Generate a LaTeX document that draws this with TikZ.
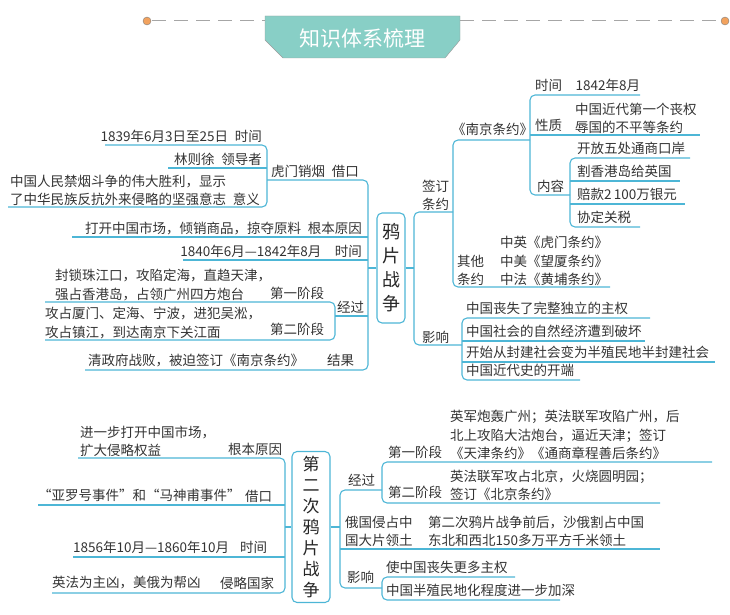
\documentclass[tikz,border=0pt]{standalone}
\usepackage{fontspec}
\setmainfont{Noto Sans CJK SC}
\definecolor{ln}{HTML}{4DB6D6}
\definecolor{tl}{HTML}{88CFC6}
\definecolor{og}{HTML}{F2A25E}
\begin{document}
\begin{tikzpicture}[x=1pt,y=-1pt,
 br/.style={draw=ln,line width=1.1pt,rounded corners=5pt},
 tx/.style={inner sep=0pt,anchor=base west,font=\fontsize{13.5}{18}\selectfont,text=black!80},
 txr/.style={tx,anchor=base east},
 ml/.style={inner sep=0pt,anchor=south west,align=left,font=\fontsize{13.5}{18.5}\selectfont,text=black!80},
 cbox/.style={draw=ln,line width=1.1pt,rounded corners=5pt,fill=white},
 ctext/.style={inner sep=0pt,align=center,font=\fontsize{18}{24}\selectfont,text=black!85}]
\useasboundingbox (0,0) rectangle (730,615);
% title
\draw[gray!70,line width=1pt,dash pattern=on 14pt off 8pt] (152,21) -- (720,21);
\filldraw[fill=og,draw=gray] (147,21) circle[radius=4];
\filldraw[fill=og,draw=gray] (725,21) circle[radius=4];
\draw[gray!80,fill=tl] (265,16)--(460,16)--(460,40)--(445,58)--(283,58)--(265,40)--cycle;
\node[inner sep=0pt,text=white,font=\fontsize{21}{24}\selectfont] (title) at (362,38) {知识体系梳理};

% ===== 鸦片战争 =====
\node[cbox,minimum width=28pt,minimum height=110pt] (c1) at (391,268) {};
\node[ctext] at (c1) {鸦\\片\\战\\争};
% left
\draw[br] (c1.west) -- (368,268);
\draw[br] (267,180) -- (368,180) -- (368,370) -- (85,370);
\draw[br] (105,145) -- (267,145) -- (267,207) -- (8,207);
\draw[br] (168,168) -- (267,168);
\draw[br] (72,237) -- (368,237);
\draw[br] (183,260) -- (368,260);
\draw[br] (335,316) -- (368,316);
\draw[br] (45,302) -- (335,302) -- (335,340) -- (45,340);
\node[txr] (a1) at (262,141) {1839年6月3日至25日\enspace 时间};
\node[txr] (a2) at (262,164) {林则徐\enspace 领导者};
\node[ml] (a3) at (10,206) {中国人民禁烟斗争的伟大胜利，显示\\了中华民族反抗外来侵略的坚强意志\enspace 意义};
\node[tx] (a4) at (271,176) {虎门销烟\enspace 借口};
\node[txr] (a5) at (362,233) {打开中国市场，倾销商品，掠夺原料\enspace 根本原因};
\node[txr] (a6) at (362,256) {1840年6月—1842年8月\quad 时间};
\node[ml] (a7) at (55,301) {封锁珠江口，攻陷定海，直趋天津，\\强占香港岛，占领广州四方炮台};
\node[tx] (a8) at (270,298) {第一阶段};
\node[tx] (a9) at (337,312) {经过};
\node[ml] (a10) at (45,339) {攻占厦门、定海、宁波，进犯吴淞，\\攻占镇江，到达南京下关江面};
\node[tx] (a11) at (270,334) {第二阶段};
\node[tx] (a12) at (88,365) {清政府战败，被迫签订《南京条约》};
\node[tx] (a13) at (327,365) {结果};
% right
\draw[br] (c1.east) -- (414,268);
\draw[br] (453,212) -- (414,212) -- (414,345) -- (462,345);
\draw[br] (530,140) -- (453,140) -- (453,287) -- (610,287);
\draw[br] (640,95) -- (530,95) -- (530,195) -- (570,195);
\draw[br] (530,135) -- (700,135);
\draw[br] (690,158) -- (570,158) -- (570,227) -- (640,227);
\draw[br] (570,181) -- (680,181);
\draw[br] (570,204) -- (685,204);
\draw[br] (650,318) -- (462,318) -- (462,380) -- (580,380);
\draw[br] (462,341) -- (645,341);
\draw[br] (462,362) -- (715,362);
\node[ml] (b1) at (422,211) {签订\\条约};
\node[tx] (b2) at (452,134) {《南京条约》};
\node[tx] (b3) at (535,91) {时间\quad 1842年8月};
\node[tx] (b4) at (535,130) {性质};
\node[ml] (b5) at (575,134) {中国近代第一个丧权\\辱国的不平等条约};
\node[tx] (b6) at (577,153) {开放五处通商口岸};
\node[tx] (b7) at (577,176) {割香港岛给英国};
\node[tx] (b8) at (577,199) {赔款2\,100万银元};
\node[tx] (b9) at (577,222) {协定关税};
\node[tx] (b10) at (537,191) {内容};
\node[ml] (b11) at (457,286) {其他\\条约};
\node[ml] (b12) at (500,286) {中英《虎门条约》\\中美《望厦条约》\\中法《黄埔条约》};
\node[tx] (b13) at (422,342) {影响};
\node[tx] (b14) at (466,313) {中国丧失了完整独立的主权};
\node[tx] (b15) at (466,336) {中国社会的自然经济遭到破坏};
\node[tx] (b16) at (466,357) {开始从封建社会变为半殖民地半封建社会};
\node[tx] (b17) at (466,375) {中国近代史的开端};

% ===== 第二次鸦片战争 =====
\node[cbox,minimum width=38pt,minimum height=151pt] (c2) at (311,527) {};
\node[ctext,font=\fontsize{17}{21}\selectfont] at (c2) {第\\二\\次\\鸦\\片\\战\\争};
\draw[br] (c2.west) -- (285,527);
\draw[br] (78,458) -- (285,458) -- (285,593) -- (52,593);
\draw[br] (38,505) -- (285,505);
\draw[br] (73,557) -- (285,557);
\node[ml] (d1) at (80,457) {进一步打开中国市场，\\扩大侵略权益};
\node[tx] (d2) at (228,454) {根本原因};
\node[tx] (d3) at (38,500) {“亚罗号事件”和“马神甫事件”};
\node[tx] (d4) at (245,501) {借口};
\node[tx] (d5) at (73,552) {1856年10月—1860年10月};
\node[tx] (d6) at (240,552) {时间};
\node[tx] (d7) at (52,587) {英法为主凶，美俄为帮凶};
\node[tx] (d8) at (220,588) {侵略国家};
\draw[br] (c2.east) -- (340,527);
\draw[br] (382,490) -- (340,490) -- (340,588) -- (382,588);
\draw[br] (340,549) -- (660,549);
\draw[br] (712,462) -- (382,462) -- (382,503) -- (660,503);
\draw[br] (515,577) -- (382,577) -- (382,600) -- (560,600);
\node[tx] (e1) at (348,485) {经过};
\node[tx] (e2) at (388,457) {第一阶段};
\node[ml] (e3) at (450,460) {英军炮轰广州；英法联军攻陷广州，后\\北上攻陷大沽炮台，逼近天津；签订\\《天津条约》《通商章程善后条约》};
\node[tx] (e4) at (388,497) {第二阶段};
\node[ml] (e5) at (450,501) {英法联军攻占北京，火烧圆明园；\\签订《北京条约》};
\node[ml] (e6) at (345,547) {俄国侵占中\\国大片领土};
\node[ml] (e7) at (428,547) {第二次鸦片战争前后，沙俄割占中国\\东北和西北150多万平方千米领土};
\node[tx] (e8) at (347,582) {影响};
\node[tx] (e9) at (386,572) {使中国丧失更多主权};
\node[tx] (e10) at (386,595) {中国半殖民地化程度进一步加深};
\end{tikzpicture}
\end{document}
